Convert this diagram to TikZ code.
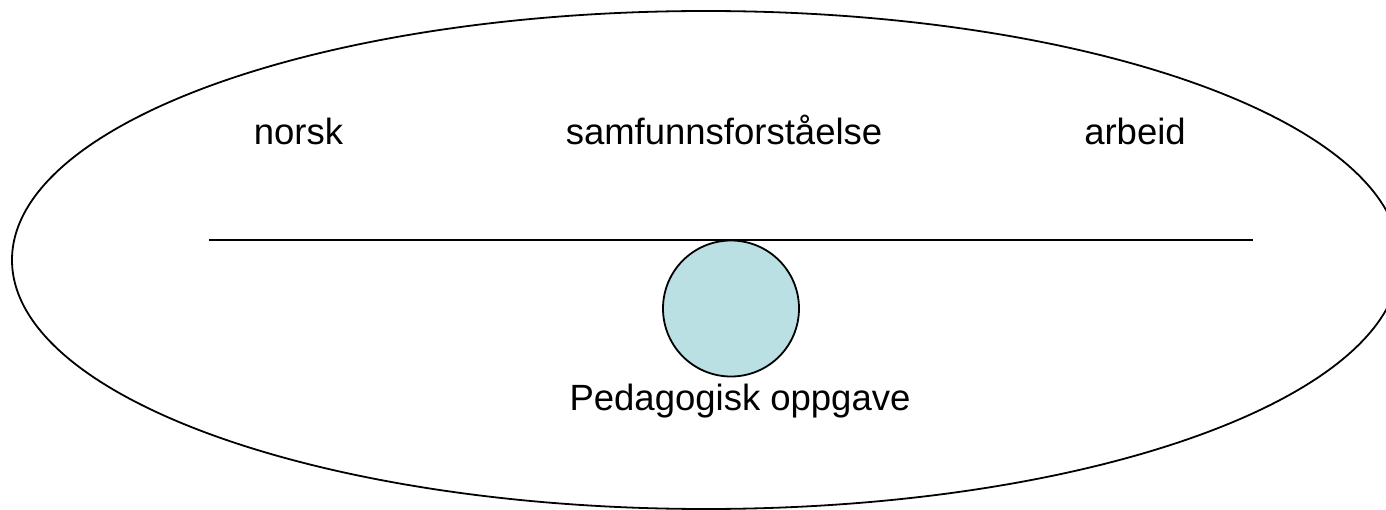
\documentclass[tikz,border=0pt]{standalone}
\usepackage{fontspec}
\setmainfont{Liberation Sans}
\definecolor{circfill}{HTML}{BAE0E4}
\begin{document}
\begin{tikzpicture}[x=1pt,y=-1pt,
  lbl/.style={inner sep=0pt,anchor=base,font=\fontsize{36.5}{40}\selectfont},
  thick line/.style={line width=1.8pt,black}]
\useasboundingbox (0,0) rectangle (1386,510);
\begin{scope}
\clip (0,0) rectangle (1386,510);
\draw[thick line] (706,260) ellipse [x radius=694, y radius=249];
\end{scope}
\coordinate (l1) at (209,240);
\coordinate (l2) at (1253,240);
\draw[thick line] (l1) -- (l2);
\node[circle,draw,thick line,fill=circfill,minimum size=136pt,inner sep=0pt] (c) at (731,308.5) {};
\node[lbl] (norsk) at (298.5,145) {norsk};
\node[lbl] (samf) at (724,145) {samfunnsforståelse};
\node[lbl] (arbeid) at (1135,145) {arbeid};
\node[lbl] (ped) at (740,410) {Pedagogisk oppgave};
\end{tikzpicture}
\end{document}
